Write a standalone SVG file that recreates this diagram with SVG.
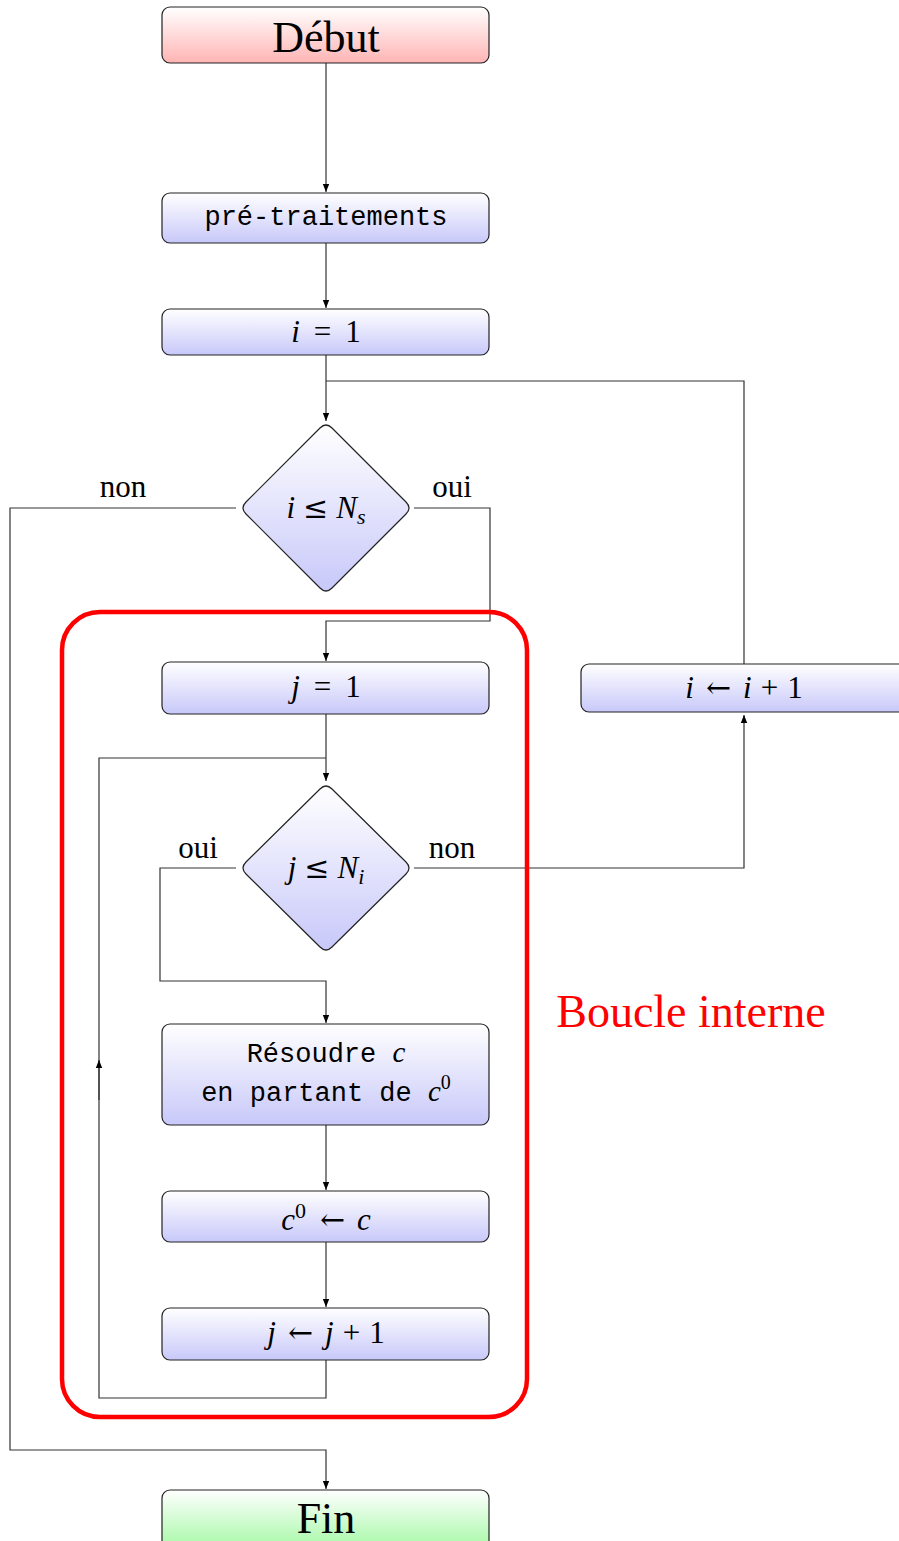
<svg xmlns="http://www.w3.org/2000/svg" width="899" height="1541" viewBox="0 0 899 1541">
<defs>
<linearGradient id="gb" x1="0" y1="0" x2="0" y2="1"><stop offset="0" stop-color="#ffffff"/><stop offset="1" stop-color="#c8c8fa"/></linearGradient>
<linearGradient id="gr" x1="0" y1="0" x2="0" y2="1"><stop offset="0" stop-color="#ffffff"/><stop offset="1" stop-color="#ffb4b4"/></linearGradient>
<linearGradient id="gg" x1="0" y1="0" x2="0" y2="1"><stop offset="0" stop-color="#ffffff"/><stop offset="1" stop-color="#a4f8a4"/></linearGradient>
<marker id="ar" viewBox="0 0 10 10" refX="10" refY="5" markerWidth="8" markerHeight="8" markerUnits="userSpaceOnUse" orient="auto"><path d="M0,1 L10,5 L0,9 Z" fill="#000"/></marker>
</defs>
<style>
.box{stroke:#222;stroke-width:1.2;fill:url(#gb)}
.c{fill:none;stroke:#333;stroke-width:1.2}
.t{font-family:"Liberation Serif",serif;fill:#000;text-anchor:middle}
.m{font-family:"Liberation Serif",serif;font-style:italic;fill:#000;text-anchor:middle;font-size:31px}
.o{font-family:"DejaVu Serif",serif;font-style:normal;font-size:30px}
.n{font-style:normal}
.tt{font-family:"Liberation Mono",monospace;fill:#000;text-anchor:middle;font-size:27px}
.lab{font-family:"Liberation Serif",serif;font-size:31px;fill:#000;text-anchor:middle}
</style>
<rect width="899" height="1541" fill="#fff"/>
<g id="connectors">
<path class="c" d="M326,63 V192" marker-end="url(#ar)"/>
<path class="c" d="M326,243 V308" marker-end="url(#ar)"/>
<path class="c" d="M326,355 V421" marker-end="url(#ar)"/>
<path class="c" d="M744,664 V381 H326"/>
<path class="c" d="M236,508 H10 V1450 H326 V1489" marker-end="url(#ar)"/>
<path class="c" d="M414,508 H490 V621 H326 V661" marker-end="url(#ar)"/>
<path class="c" d="M326,714 V781" marker-end="url(#ar)"/>
<path class="c" d="M236,868 H160 V981 H326 V1023" marker-end="url(#ar)"/>
<path class="c" d="M414,868 H744 V715" marker-end="url(#ar)"/>
<path class="c" d="M326,1125 V1190" marker-end="url(#ar)"/>
<path class="c" d="M326,1242 V1307" marker-end="url(#ar)"/>
<path class="c" d="M326,1360 V1398 H99 V758 H326"/>
<path class="c" d="M99,1100 V1060" marker-end="url(#ar)"/>
</g>
<g id="labels">
<text class="lab" x="123" y="497">non</text>
<text class="lab" x="452" y="497">oui</text>
<text class="lab" x="198" y="858">oui</text>
<text class="lab" x="452" y="858">non</text>
</g>
<g id="debut"><rect class="box" style="fill:url(#gr)" x="162" y="7" width="327" height="56" rx="8"/><text class="t" x="326" y="52" font-size="44">Début</text></g>
<g id="pretraitements"><rect class="box" x="162" y="193" width="327" height="50" rx="8"/><text class="tt" x="326" y="225">pré-traitements</text></g>
<g id="i1"><rect class="box" x="162" y="309" width="327" height="46" rx="8"/><text class="m" x="326" y="342">i<tspan class="n" dx="14">=</tspan><tspan class="n" dx="14">1</tspan></text></g>
<g id="cond-i"><path class="box" d="M320,428 Q326,422 332,428 L406,502 Q412,508 406,514 L332,588 Q326,594 320,588 L246,514 Q240,508 246,502 Z"/><text class="m" x="326" y="518">i<tspan class="o" dx="8">≤</tspan><tspan dx="8">N</tspan><tspan font-size="22" dy="6">s</tspan></text></g>
<g id="j1"><rect class="box" x="162" y="662" width="327" height="52" rx="8"/><text class="m" x="326" y="697">j<tspan class="n" dx="14">=</tspan><tspan class="n" dx="14">1</tspan></text></g>
<g id="cond-j"><path class="box" d="M320,789 Q326,783 332,789 L406,862 Q412,868 406,874 L332,947 Q326,953 320,947 L246,874 Q240,868 246,862 Z"/><text class="m" x="326" y="878">j<tspan class="o" dx="8">≤</tspan><tspan dx="8">N</tspan><tspan font-size="22" dy="6">i</tspan></text></g>
<g id="iinc"><rect class="box" x="581" y="664" width="340" height="48" rx="8"/><text class="m" x="744" y="698">i<tspan class="o" dx="12">←</tspan><tspan dx="12">i</tspan><tspan class="n" dx="9">+</tspan><tspan class="n" dx="9">1</tspan></text></g>
<g id="resoudre"><rect class="box" x="162" y="1024" width="327" height="101" rx="8"/><text class="tt" x="326" y="1062" font-size="26">Résoudre <tspan font-family="Liberation Serif" font-style="italic" font-size="29">c</tspan></text><text class="tt" x="326" y="1101" font-size="26">en partant de <tspan font-family="Liberation Serif" font-style="italic" font-size="29">c</tspan><tspan font-family="Liberation Serif" font-size="20" dy="-12">0</tspan></text></g>
<g id="c0c"><rect class="box" x="162" y="1191" width="327" height="51" rx="8"/><text class="m" x="326" y="1230">c<tspan class="n" font-size="22" dy="-12">0</tspan><tspan class="o" dy="12" dx="14">←</tspan><tspan dx="12">c</tspan></text></g>
<g id="jinc"><rect class="box" x="162" y="1308" width="327" height="52" rx="8"/><text class="m" x="326" y="1343">j<tspan class="o" dx="12">←</tspan><tspan dx="12">j</tspan><tspan class="n" dx="9">+</tspan><tspan class="n" dx="9">1</tspan></text></g>
<g id="fin"><rect class="box" style="fill:url(#gg)" x="162" y="1490" width="327" height="60" rx="8"/><text class="t" x="326" y="1533" font-size="44">Fin</text></g>
<g id="boucle"><rect x="62" y="612" width="465" height="805" rx="38" fill="none" stroke="#ff0000" stroke-width="4.5"/><text x="691" y="1027" font-family="Liberation Serif,serif" font-size="46" fill="#ff0000" text-anchor="middle">Boucle interne</text></g>
</svg>
